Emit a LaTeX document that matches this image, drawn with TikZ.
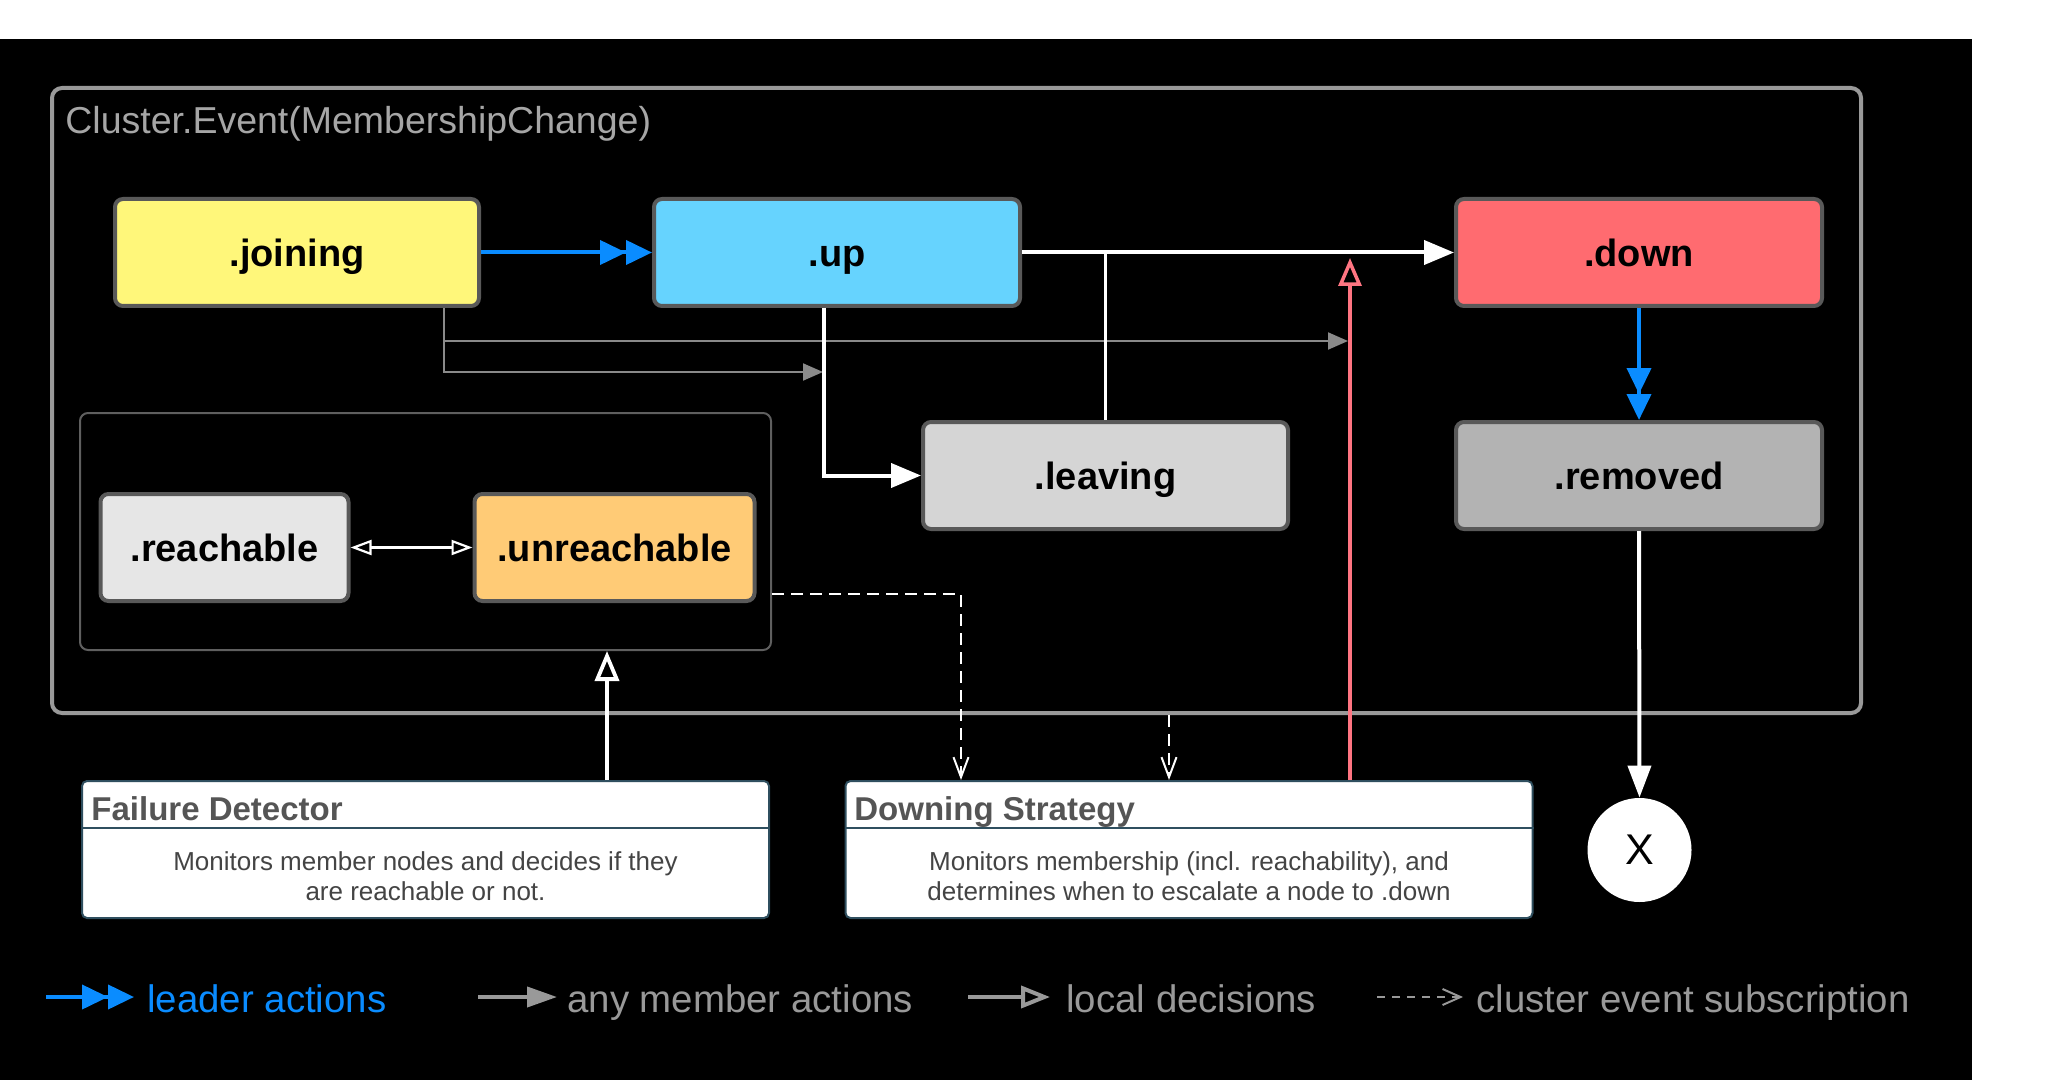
\documentclass[tikz,border=0pt]{standalone}
\usepackage{fontspec}
\setmainfont{Liberation Sans}
\usetikzlibrary{arrows.meta,calc}
\definecolor{cjoin}{HTML}{FFF77A}
\definecolor{cup}{HTML}{66D3FE}
\definecolor{cdown}{HTML}{FF6B70}
\definecolor{cleave}{HTML}{D5D5D5}
\definecolor{cremov}{HTML}{B3B3B3}
\definecolor{creach}{HTML}{E6E6E6}
\definecolor{cunreach}{HTML}{FFCB76}
\definecolor{cred}{HTML}{FF7582}
\definecolor{cblue}{HTML}{0A8CFF}
\definecolor{cborder}{HTML}{595959}
\definecolor{cclus}{HTML}{999999}
\definecolor{clab}{HTML}{A6A6A6}
\definecolor{cinner}{HTML}{5F5F5F}
\definecolor{cbox}{HTML}{2F4F5F}
\definecolor{ctitle}{HTML}{555555}
\definecolor{cdesc}{HTML}{444444}
\definecolor{clegend}{HTML}{999999}
\definecolor{cgrayline}{HTML}{8A8A8A}
\begin{document}
\begin{tikzpicture}[x=0.5pt,y=-0.5pt,
  state/.style={draw=cborder, line width=2pt, rounded corners=4pt, minimum height=53.5pt,
    inner sep=0pt, text=black, text height=13.6pt, text depth=0pt,
    font=\bfseries\fontsize{19}{23}\selectfont},
  infobox/.style={draw=cbox, line width=1pt, fill=white, rounded corners=2.5pt,
    minimum width=343.5pt, minimum height=68.5pt, inner sep=0pt},
  boxtitle/.style={anchor=base west, text=ctitle, inner sep=0pt, font=\bfseries\fontsize{16.5}{19}\selectfont},
  boxdesc/.style={align=center, text=cdesc, inner sep=0pt, font=\fontsize{13}{15}\selectfont},
  legtext/.style={anchor=base west, inner sep=0pt, font=\fontsize{19.2}{22}\selectfont},
  bluearr/.style={draw=cblue, line width=2pt, -{Triangle[length=13pt,width=12pt]Triangle[length=13pt,width=12pt]}},
  whitearr/.style={draw=white, line width=2pt, -{Triangle[length=15pt,width=12pt]}},
  whiteline/.style={draw=white, line width=1.75pt},
  grayarr/.style={draw=cgrayline, line width=1pt, -{Triangle[length=10pt,width=8.5pt]}},
  openarr/.style={draw=white, line width=1.9pt, -{Triangle[open,length=15pt,width=12pt]}},
  redarr/.style={draw=cred, line width=1.75pt, -{Triangle[open,length=14pt,width=11.5pt]}},
  dasharr/.style={draw=white, line width=1pt, dash pattern=on 6pt off 3.5pt, -{Straight Barb[length=10pt,width=7.5pt]}},
]
\useasboundingbox (0,0) rectangle (2048,1080);
\fill[white] (0,0) rectangle (2048,1080);
\fill[black] (0,39) rectangle (1972,1080);

% containers
\node[draw=cclus, line width=2pt, rounded corners=5pt, minimum width=904.5pt, minimum height=312.5pt, inner sep=0pt] (cluster) at (956.5,400.5) {};
\node[anchor=base west, text=clab, inner sep=0pt, font=\fontsize{18.75}{22}\selectfont] (clabel) at (65,134) {Cluster.Event(MembershipChange)};
\node[draw=cinner, line width=1pt, rounded corners=4pt, minimum width=345.5pt, minimum height=118.5pt, inner sep=0pt] (inner) at (425.5,531.5) {};

% states
\node[state, fill=cjoin, minimum width=182pt] (joining) at (297,252.5) {.joining};
\node[state, fill=cup, minimum width=183pt] (up) at (837,252.5) {.up};
\node[state, fill=cdown, minimum width=183pt] (down) at (1639,252.5) {.down};
\node[state, fill=cleave, minimum width=182.5pt] (leaving) at (1105.5,475.5) {.leaving};
\node[state, fill=cremov, minimum width=183pt] (removed) at (1639,475.5) {.removed};
\node[state, fill=creach, minimum width=124pt] (reach) at (224.5,547.5) {.reachable};
\node[state, fill=cunreach, minimum width=140pt] (unreach) at (614.5,547.5) {.unreachable};

% info boxes
\node[infobox] (fd) at (425.5,849.5) {};
\draw[cbox, line width=1pt] (fd.west |- 0,828) -- (fd.east |- 0,828);
\node[boxtitle] (fdtitle) at (91,820) {Failure Detector};
\node[boxdesc] (fddesc) at (425.5,876) {Monitors member nodes and decides if they\\are reachable or not.};

\node[infobox] (ds) at (1189,849.5) {};
\draw[cbox, line width=1pt] (ds.west |- 0,828) -- (ds.east |- 0,828);
\node[boxtitle] (dstitle) at (854,820) {Downing Strategy};
\node[boxdesc] (dsdesc) at (1189,876) {Monitors membership (incl. reachability), and\\determines when to escalate a node to .down};

\node[circle, fill=white, minimum size=52pt, inner sep=0pt, text=black, font=\fontsize{21.5}{24}\selectfont] (xnode) at (1639.5,850) {X};

% helper coordinates
\coordinate (jb) at ([xshift=-18.5pt]joining.south east);
\coordinate (g1) at (1348,341);
\coordinate (g2) at (823,372);
\coordinate (redtop) at (1350,258);
\coordinate (fdx) at (607,0);
\coordinate (d1) at (961,594);
\coordinate (d2) at (1169,0);

% gray member actions
\draw[grayarr] (jb) |- (g1);
\draw[grayarr] (jb) |- (g2);

% main transitions
\draw[bluearr] (joining.east) -- (up.west);
\draw[whitearr] (up.east) -- (down.west);
\draw[whiteline] (leaving.north) -- (leaving.north |- up.east);
\draw[whitearr] ([xshift=-6.5pt]up.south) |- (leaving.west);
\draw[bluearr] (down.south) -- (removed.north);
\draw[whitearr, -{Triangle[length=16pt,width=11.5pt]}] (removed.south) -- (xnode.north);

% local decisions
\draw[redarr] (redtop |- ds.north) -- (redtop);
\draw[openarr] (fdx |- fd.north) -- (fdx |- inner.south);
\draw[draw=white, line width=1.1pt, {Triangle[open,length=10.5pt,width=7.5pt]}-{Triangle[open,length=10.5pt,width=7.5pt]}] (reach.east) -- (unreach.west);

% subscriptions
\draw[dasharr] (inner.east |- d1) -| (d1 |- ds.north);
\draw[dasharr] (d2 |- cluster.south) -- (d2 |- ds.north);

% legend
\coordinate (la1) at (46,997); \coordinate (la2) at (134,997);
\coordinate (lb1) at (478,997); \coordinate (lb2) at (557,997);
\coordinate (lc1) at (968,997); \coordinate (lc2) at (1050,997);
\coordinate (ld1) at (1377,997); \coordinate (ld2) at (1463,997);
\draw[bluearr] (la1) -- (la2);
\draw[draw=clegend, line width=2pt, -{Triangle[length=15pt,width=10pt]}] (lb1) -- (lb2);
\draw[draw=clegend, line width=2pt, -{Triangle[open,length=14.5pt,width=11pt]}] (lc1) -- (lc2);
\draw[draw=clegend, line width=1pt, dash pattern=on 4pt off 3.5pt, -{Straight Barb[length=9pt,width=8pt]}] (ld1) -- (ld2);
\node[legtext, text=cblue] (lt1) at (147,1012) {leader actions};
\node[legtext, text=clegend] (lt2) at (567,1012) {any member actions};
\node[legtext, text=clegend] (lt3) at (1066,1012) {local decisions};
\node[legtext, text=clegend] (lt4) at (1476,1012) {cluster event subscription};
\end{tikzpicture}
\end{document}
